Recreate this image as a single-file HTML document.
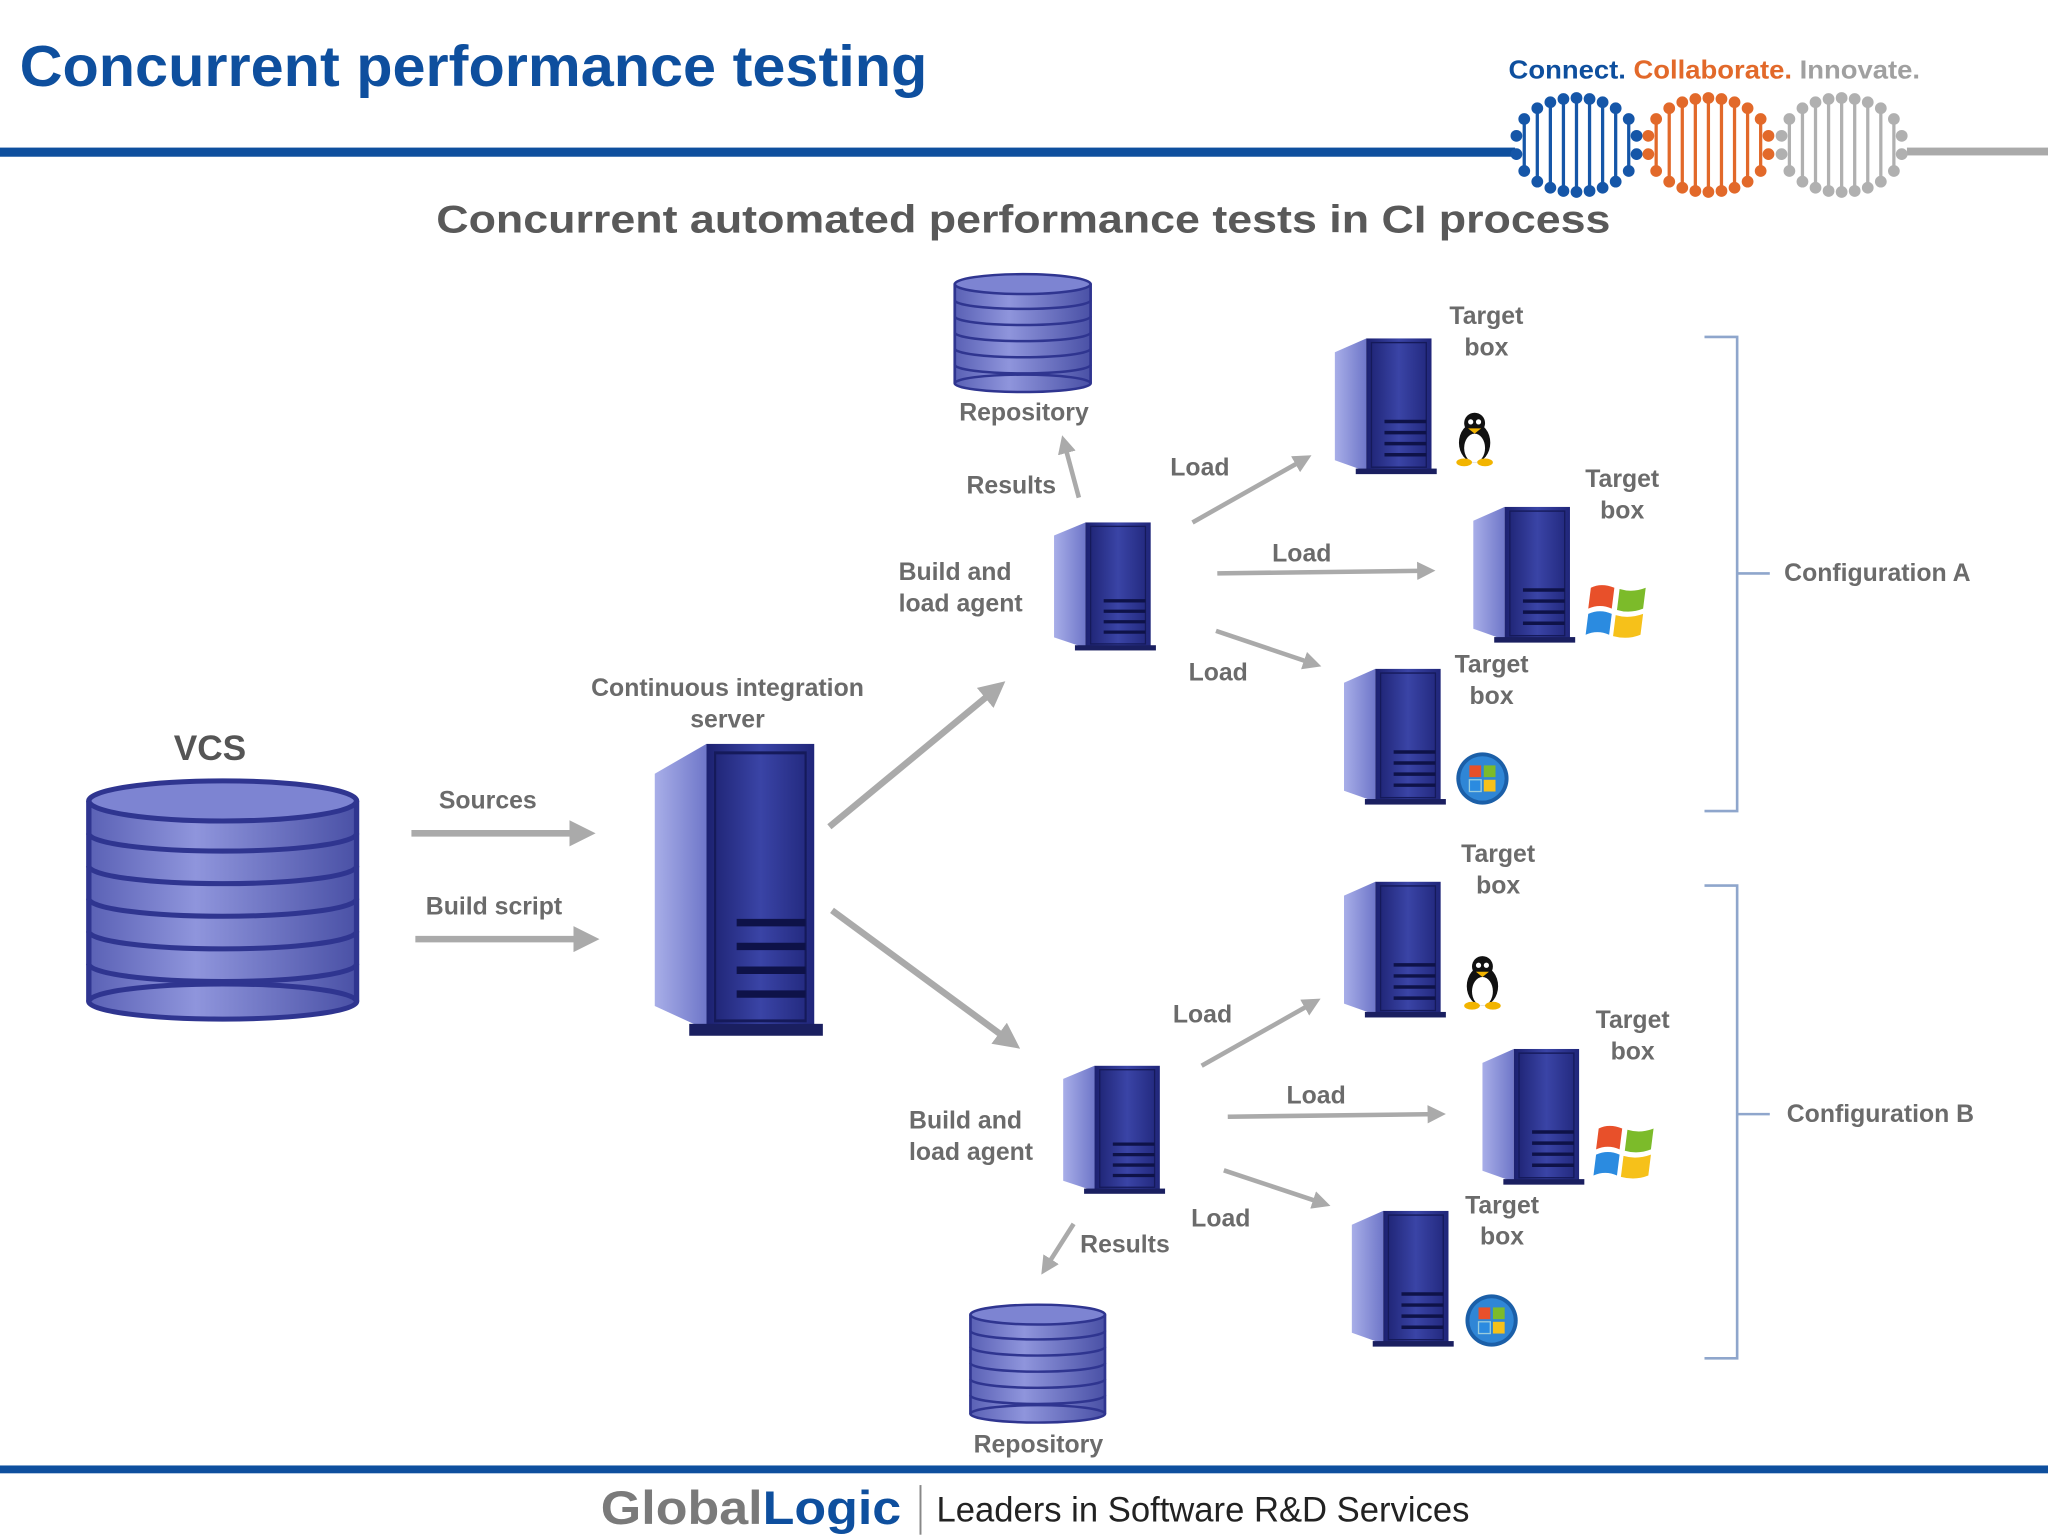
<!DOCTYPE html>
<html><head><meta charset="utf-8"><style>
html,body{margin:0;padding:0;background:#fff;}
svg{display:block;}
text{font-family:"Liberation Sans","DejaVu Sans",sans-serif;}
.lbl{font-family:"DejaVu Sans","Liberation Sans",sans-serif;font-size:19px;font-weight:bold;fill:#6b6b6b;}
</style></head><body>
<svg id="s" width="2048" height="1536" viewBox="0 0 1568 1176" xmlns="http://www.w3.org/2000/svg">
<defs>
<linearGradient id="front" x1="0" x2="1" y1="0" y2="0">
<stop offset="0" stop-color="#1c2170"/><stop offset="0.5" stop-color="#3a44a6"/><stop offset="1" stop-color="#20267a"/></linearGradient>
<linearGradient id="side" x1="0" x2="1"><stop offset="0" stop-color="#a8aee8"/><stop offset="1" stop-color="#6f77c9"/></linearGradient>
<linearGradient id="db" x1="0" x2="1"><stop offset="0" stop-color="#5a61b5"/><stop offset="0.4" stop-color="#8f95dc"/><stop offset="1" stop-color="#4a51a6"/></linearGradient>
<g id="srv">
<polygon points="2,12 26,2 26,98 2,90" fill="url(#side)"/>
<rect x="26" y="2" width="50" height="96" fill="url(#front)"/>
<rect x="30" y="5" width="42" height="90" fill="none" stroke="#151a5a" stroke-width="1"/>
<g stroke="#0e1248" stroke-width="2.5"><line x1="40" y1="62" x2="72" y2="62"/><line x1="40" y1="70" x2="72" y2="70"/><line x1="40" y1="78" x2="72" y2="78"/><line x1="40" y1="86" x2="72" y2="86"/></g>
<rect x="18" y="96" width="62" height="4" fill="#1a1f60"/>
</g>
<g id="db1">
<rect x="0" y="10" width="100" height="80" fill="url(#db)"/>
<ellipse cx="50" cy="90" rx="50" ry="7" fill="url(#db)" stroke="#2f3590" stroke-width="2"/>
<g fill="none" stroke="#2f3590" stroke-width="2">
<path d="M0 23 A50 7 0 0 0 100 23"/><path d="M0 36 A50 7 0 0 0 100 36"/><path d="M0 49 A50 7 0 0 0 100 49"/><path d="M0 62 A50 7 0 0 0 100 62"/><path d="M0 75 A50 7 0 0 0 100 75"/>
<line x1="0" y1="10" x2="0" y2="90"/><line x1="100" y1="10" x2="100" y2="90"/></g>
<ellipse cx="50" cy="10" rx="50" ry="8" fill="#7d84d2" stroke="#2f3590" stroke-width="2"/>
</g>
<marker id="ah" markerWidth="4" markerHeight="4" refX="2" refY="2" orient="auto" markerUnits="strokeWidth"><path d="M0,0 L4,2 L0,4z" fill="#aaaaaa"/></marker>
<g id="tux"><ellipse cx="16" cy="24" rx="12" ry="15" fill="#111"/><ellipse cx="16" cy="28" rx="8" ry="11" fill="#fff"/><circle cx="16" cy="9" r="8" fill="#111"/><circle cx="13" cy="8" r="2" fill="#fff"/><circle cx="19" cy="8" r="2" fill="#fff"/><path d="M11 13 L21 13 L16 17z" fill="#f2b400"/><ellipse cx="8" cy="39" rx="6" ry="3" fill="#f2b400"/><ellipse cx="24" cy="39" rx="6" ry="3" fill="#f2b400"/></g>
<g id="win"><path d="M2 6 Q10 2 20 6 L18 22 Q9 18 0 22z" fill="#e8502a"/><path d="M24 7 Q34 10 44 6 L42 22 Q32 26 22 23z" fill="#7cbb2a"/><path d="M0 26 Q9 22 18 26 L16 42 Q7 38 -2 42z" fill="#2b8be0"/><path d="M21 27 Q31 30 42 26 L40 42 Q30 46 19 43z" fill="#f6c11a"/></g>
<g id="orb"><circle cx="20" cy="20" r="20" fill="#1b5fa8"/><circle cx="20" cy="20" r="17" fill="#2f86d6"/><rect x="10" y="10" width="9" height="9" fill="#e8502a"/><rect x="21" y="10" width="9" height="9" fill="#7cbb2a"/><rect x="10" y="21" width="9" height="9" fill="#2b8be0" stroke="#9cd" stroke-width="1"/><rect x="21" y="21" width="9" height="9" fill="#f6c11a"/></g>
</defs>

<!-- header -->
<text x="15" y="66" font-size="44" font-weight="bold" fill="#0e4f9e" textLength="695" lengthAdjust="spacingAndGlyphs">Concurrent performance testing</text>
<text x="1155" y="60" font-size="20" font-weight="bold" textLength="315" lengthAdjust="spacingAndGlyphs"><tspan fill="#0e4f9e">Connect. </tspan><tspan fill="#e2692a">Collaborate. </tspan><tspan fill="#a0a0a0">Innovate.</tspan></text>
<rect x="0" y="113" width="1160" height="7" fill="#0e4f9e"/>
<rect x="1460" y="113" width="108" height="6" fill="#aaaaaa"/>
<g id="dna"></g>

<text x="334" y="178" font-size="30" font-weight="bold" fill="#595959" textLength="899" lengthAdjust="spacingAndGlyphs">Concurrent automated performance tests in CI process</text>

<!-- databases -->
<use href="#db1" transform="translate(731,208) scale(1.04,0.95)"/>
<use href="#db1" transform="translate(68,594) scale(2.05,1.92)"/>
<use href="#db1" transform="translate(743,997) scale(1.03,0.95)"/>

<!-- servers -->
<use href="#srv" transform="translate(805,398) scale(1.0,1.0)"/>
<use href="#srv" transform="translate(812,814) scale(1.0,1.0)"/>
<use href="#srv" transform="translate(1020,257) scale(1.0,1.06)"/>
<use href="#srv" transform="translate(1126,386) scale(1.0,1.06)"/>
<use href="#srv" transform="translate(1027,510) scale(1.0,1.06)"/>
<use href="#srv" transform="translate(1027,673) scale(1.0,1.06)"/>
<use href="#srv" transform="translate(1133,801) scale(1.0,1.06)"/>
<use href="#srv" transform="translate(1033,925) scale(1.0,1.06)"/>
<use href="#srv" transform="translate(498,565) scale(1.65,2.28)"/>

<!-- icons -->
<use href="#tux" transform="translate(1113,315)"/>
<use href="#tux" transform="translate(1119,731)"/>
<use href="#win" transform="translate(1216,444)"/>
<use href="#win" transform="translate(1222,858)"/>
<use href="#orb" transform="translate(1115,576)"/>
<use href="#orb" transform="translate(1122,991)"/>

<!-- arrows -->
<g stroke="#aaaaaa" stroke-width="5" fill="none" marker-end="url(#ah)">
<line x1="315" y1="638" x2="446" y2="638"/>
<line x1="318" y1="719" x2="449" y2="719"/>
<line x1="635" y1="633" x2="762" y2="528"/>
<line x1="637" y1="697" x2="773" y2="797"/>
</g>
<g stroke="#aaaaaa" stroke-width="3.5" fill="none" marker-end="url(#ah)">
<line x1="826" y1="381" x2="815" y2="340"/>
<line x1="913" y1="400" x2="998" y2="352"/>
<line x1="932" y1="439" x2="1092" y2="437"/>
<line x1="931" y1="483" x2="1005" y2="508"/>
<line x1="920" y1="816" x2="1005" y2="768"/>
<line x1="940" y1="855" x2="1100" y2="853"/>
<line x1="937" y1="896" x2="1012" y2="921"/>
<line x1="822" y1="937" x2="801" y2="970"/>
</g>

<!-- brackets -->
<g stroke="#8fa6cc" stroke-width="2" fill="none">
<path d="M1305 258 H1330 V621 H1305 M1330 439 H1355"/>
<path d="M1305 678 H1330 V1040 H1305 M1330 853 H1355"/>
</g>

<!-- labels -->
<text x="133" y="582" font-size="27" font-weight="bold" fill="#555">VCS</text>
<g class="lbl">
<text x="336" y="619">Sources</text>
<text x="326" y="700">Build script</text>
<text x="557" y="533" text-anchor="middle">Continuous integration</text>
<text x="557" y="557" text-anchor="middle">server</text>
<text x="784" y="322" text-anchor="middle">Repository</text>
<text x="795" y="1112" text-anchor="middle">Repository</text>
<text x="740" y="378">Results</text>
<text x="827" y="959">Results</text>
<text x="688" y="444">Build and</text>
<text x="688" y="468">load agent</text>
<text x="696" y="864">Build and</text>
<text x="696" y="888">load agent</text>
<text x="896" y="364">Load</text>
<text x="974" y="430">Load</text>
<text x="910" y="521">Load</text>
<text x="898" y="783">Load</text>
<text x="985" y="845">Load</text>
<text x="912" y="939">Load</text>
<g text-anchor="middle">
<text x="1138" y="248">Target</text><text x="1138" y="272">box</text>
<text x="1242" y="373">Target</text><text x="1242" y="397">box</text>
<text x="1142" y="515">Target</text><text x="1142" y="539">box</text>
<text x="1147" y="660">Target</text><text x="1147" y="684">box</text>
<text x="1250" y="787">Target</text><text x="1250" y="811">box</text>
<text x="1150" y="929">Target</text><text x="1150" y="953">box</text>
</g>
<text x="1366" y="445">Configuration A</text>
<text x="1368" y="859">Configuration B</text>
</g>

<!-- footer -->
<rect x="0" y="1122" width="1568" height="6" fill="#0e4f9e"/>
<text x="460" y="1167" font-size="36" font-weight="bold" textLength="230" lengthAdjust="spacingAndGlyphs"><tspan fill="#7a7a7a">Global</tspan><tspan fill="#0e4f9e">Logic</tspan></text>
<rect x="704" y="1137" width="1.5" height="38" fill="#888"/>
<text x="717" y="1165" font-size="27" fill="#222" textLength="408" lengthAdjust="spacingAndGlyphs">Leaders in Software R&amp;D Services</text>
</svg>
<script>
(function(){
var g=document.getElementById('dna'),ns='http://www.w3.org/2000/svg';
var cs=[[1207,'#1556a8'],[1308,'#e2692a'],[1410,'#b0b0b0']];
function el(n,a){var e=document.createElementNS(ns,n);for(var k in a)e.setAttribute(k,a[k]);g.appendChild(e);}
cs.forEach(function(c){
 for(var i=-4;i<=4;i++){
  var x=c[0]+i*10, h=36*Math.sqrt(1-Math.pow(i*10/48,2));
  el('line',{x1:x,y1:111-h,x2:x,y2:111+h,stroke:c[1],'stroke-width':2.5});
  el('circle',{cx:x,cy:111-h,r:4.5,fill:c[1]});
  el('circle',{cx:x,cy:111+h,r:4.5,fill:c[1]});
 }
 el('circle',{cx:c[0]-46,cy:104,r:4.5,fill:c[1]});el('circle',{cx:c[0]-46,cy:118,r:4.5,fill:c[1]});
 el('circle',{cx:c[0]+46,cy:104,r:4.5,fill:c[1]});el('circle',{cx:c[0]+46,cy:118,r:4.5,fill:c[1]});
});
})();
</script>
</body></html>
